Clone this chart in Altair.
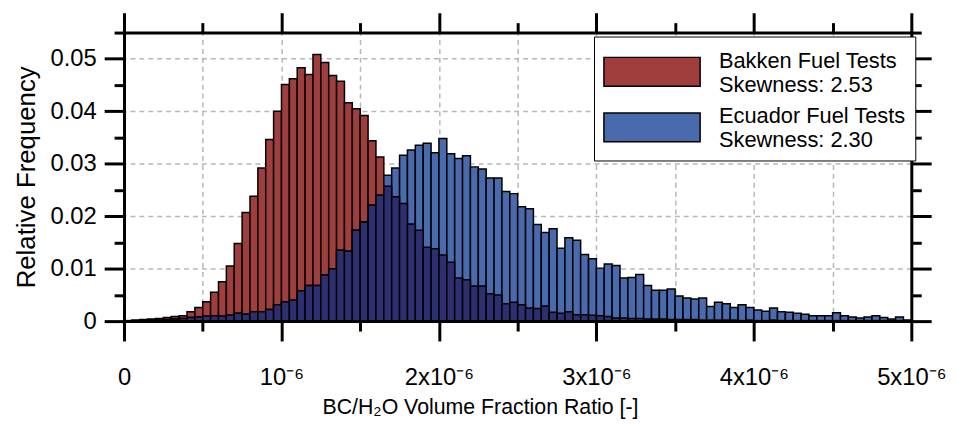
import json
import altair as alt
import pandas as pd

# ---------------- data ----------------
BIN_WIDTH = 5e-8  # histogram bin width (0.05 x 10^-6)

bakken = [
    0.0001, 0.0002, 0.0003, 0.0004, 0.0005, 0.0007, 0.0009, 0.0010, 0.0018, 0.0026,
    0.0037, 0.0055, 0.0075, 0.0105, 0.0148, 0.0207, 0.0238, 0.0292, 0.0346, 0.0400,
    0.0451, 0.0462, 0.0483, 0.0470, 0.0508, 0.0493, 0.0468, 0.0457, 0.0416, 0.0405,
    0.0392, 0.0344, 0.0313, 0.0257, 0.0237, 0.0224, 0.0185, 0.0173, 0.0141, 0.0138,
    0.0126, 0.0112, 0.0082, 0.0079, 0.0067, 0.0067, 0.0052, 0.0050, 0.0033, 0.0036,
    0.0031, 0.0025, 0.0024, 0.0029, 0.0017, 0.0015, 0.0018, 0.0012, 0.0012, 0.0011,
    0.0010, 0.0009, 0.0006, 0.0006, 0.0005, 0.0005, 0.0004, 0.0004, 0.0004, 0.0003,
    0.0003, 0.0003, 0.0003, 0.0002, 0.0002, 0.0002, 0.0002, 0.0002, 0.0001, 0.0002,
    0.0001, 0.0001, 0.0002, 0.0001, 0.0001, 0.0001, 0.0001, 0.0001, 0.0001, 0.0001,
    0.0001, 0.0001, 0.0001, 0.0001, 0.0001, 0.0001, 0.0001, 0.0001, 0.0001, 0.0001,
]

ecuador = [
    0.00005, 0.0001, 0.0001, 0.0002, 0.0002, 0.0003, 0.0004, 0.0005, 0.0007, 0.0008,
    0.00095, 0.0010, 0.00095, 0.0011, 0.0015, 0.0013, 0.0018, 0.0018, 0.0022, 0.0031,
    0.0037, 0.0040, 0.0058, 0.0068, 0.0068, 0.0088, 0.0100, 0.0135, 0.0133, 0.0173,
    0.0189, 0.0221, 0.0240, 0.0278, 0.0292, 0.0316, 0.0326, 0.0335, 0.0339, 0.0321,
    0.0348, 0.0319, 0.0310, 0.0315, 0.0294, 0.0290, 0.0273, 0.0273, 0.0247, 0.0243,
    0.0218, 0.0214, 0.0184, 0.0169, 0.0176, 0.0139, 0.0159, 0.0154, 0.0127, 0.0119,
    0.0101, 0.0109, 0.0106, 0.0082, 0.0083, 0.0089, 0.0068, 0.0059, 0.0059, 0.0061,
    0.0048, 0.0044, 0.0042, 0.0044, 0.0028, 0.0036, 0.0033, 0.0026, 0.0031, 0.0026,
    0.0021, 0.0019, 0.0025, 0.0018, 0.0017, 0.0015, 0.0013, 0.0010, 0.0010, 0.0010,
    0.0016, 0.0010, 0.0008, 0.0006, 0.0008, 0.0010, 0.0007, 0.0004, 0.0008, 0.0002,
]

series_names = ["Bakken Fuel Tests|Skewness: 2.53", "Ecuador Fuel Tests|Skewness: 2.30"]
series_colors = ["#a03d3d", "#4a6aae"]
overlap_color = "#2e2f70"

x_ticks = [0, 0.5e-6, 1e-6, 1.5e-6, 2e-6, 2.5e-6, 3e-6, 3.5e-6, 4e-6, 4.5e-6, 5e-6]
x_tick_labels = ["0", "", "10⁻⁶", "", "2x10⁻⁶", "", "3x10⁻⁶", "", "4x10⁻⁶", "", "5x10⁻⁶"]
y_ticks = [0, 0.005, 0.01, 0.015, 0.02, 0.025, 0.03, 0.035, 0.04, 0.045, 0.05, 0.055]
y_tick_labels = ["0", "", "0.01", "", "0.02", "", "0.03", "", "0.04", "", "0.05", ""]

x_title = "BC/H₂O Volume Fraction Ratio [-]"
y_title = "Relative Frequency"

# ---------------- tables ----------------
n = len(bakken)
starts = [i * BIN_WIDTH for i in range(n)]
ends = [(i + 1) * BIN_WIDTH for i in range(n)]

red_df = pd.DataFrame({"start": starts, "end": ends, "freq": bakken, "series": series_names[0]})
blue_df = pd.DataFrame({"start": starts, "end": ends, "freq": ecuador, "series": series_names[1]})
ovl_df = pd.DataFrame({"start": starts, "end": ends,
                       "freq": [min(a, b) for a, b in zip(bakken, ecuador)]})

FONT = "Liberation Sans"

x_major = "round(datum.value*2e6) % 2 == 0"
y_major = "round(datum.value*200) % 2 == 0"
x_tick_size = {"condition": {"test": x_major, "value": 20}, "value": 10}
y_tick_size = {"condition": {"test": y_major, "value": 20}, "value": 10}

x_scale = alt.Scale(domain=[0, 5e-6], nice=False, zero=False)
y_scale = alt.Scale(domain=[0, 0.055], nice=False)
color_scale = alt.Scale(domain=series_names, range=series_colors)

common_axis = dict(
    tickWidth=3, tickColor="black", domainWidth=3, domainColor="black",
    domainCap="square",
)

x_bottom = alt.Axis(
    orient="bottom", values=x_ticks,
    labelExpr=json.dumps(x_tick_labels) + "[round(datum.value*2e6)]",
    tickSize=x_tick_size, grid=False, labelFont=FONT, labelFontSize=24,
    labelColor="black", labelPadding=25, labelFlush=False, labelOverlap=False,
    labelBound=False,
    title=x_title, titleFont=FONT, titleFontSize=21.5, titleFontWeight="normal",
    titleColor="black", titlePadding=7, titleX=359, titleAlign="center",
    zindex=1, **common_axis,
)
x_top = alt.Axis(
    orient="top", values=x_ticks, labels=False, tickSize=x_tick_size,
    grid=True, gridDash=[5, 4], gridColor="#b8b8b8", gridWidth=1.5,
    title=None, zindex=0, **common_axis,
)
y_left = alt.Axis(
    orient="left", values=y_ticks,
    labelExpr=json.dumps(y_tick_labels) + "[round(datum.value*200)]",
    tickSize=y_tick_size, grid=False, labelFont=FONT, labelFontSize=24,
    labelColor="black", labelPadding=8, labelFlush=False, labelOverlap=False,
    labelBound=False,
    title=y_title, titleFont=FONT, titleFontSize=26, titleFontWeight="normal",
    titleColor="black", titlePadding=11, zindex=1, **common_axis,
)
y_right = alt.Axis(
    orient="right", values=y_ticks, labels=False, tickSize=y_tick_size,
    grid=True, gridDash=[5, 4], gridColor="#b8b8b8", gridWidth=1.5,
    gridOpacity={"condition": {"test": y_major, "value": 1}, "value": 0},
    title=None, zindex=0, **common_axis,
)

# swatch: 97 x 29 px rectangle drawn from a 29 px symbol, lowered to sit
# beside the two-line label
legend_kwargs = dict(
    orient="none", legendX=474, legendY=4, title=None,
    symbolType="M-3.345,-0.24H3.345V1.76H-3.345Z", symbolSize=841, symbolOffset=34,
    symbolStrokeColor="black", symbolStrokeWidth=1.5, symbolOpacity=1,
    labelFont=FONT, labelFontSize=22, labelColor="black", labelOffset=52,
    labelLimit=500, labelExpr="split(datum.label, '|')",
    padding=9, rowPadding=5, strokeColor="black", fillColor="white",
)


def legend_ok(extra):
    try:
        probe = alt.Chart(pd.DataFrame({"a": ["x"]})).mark_point().encode(
            color=alt.Color("a:N", legend=alt.Legend(**legend_kwargs, **extra)))
        probe.to_dict()
        return True
    except Exception:
        return False


legend_extra = {}
for cand in (
    {"strokeWidth": 3},
    {"encoding": {"legend": {"update": {"strokeWidth": {"value": 3}}}}},
    {"encoding": {"legend": {"strokeWidth": {"value": 3}}}},
    {"encode": {"legend": {"update": {"strokeWidth": {"value": 3}}}}},
    {"encode": {"legend": {"strokeWidth": {"value": 3}}}},
):
    if legend_ok(cand):
        legend_extra = cand
        break

legend = alt.Legend(**legend_kwargs, **legend_extra)

bar_style = dict(stroke="black", strokeWidth=1.5, opacity=1)

red = alt.Chart(red_df).mark_rect(**bar_style).encode(
    x=alt.X("start:Q", scale=x_scale, axis=x_bottom),
    x2="end:Q",
    y=alt.Y("freq:Q", scale=y_scale, axis=y_left),
    y2=alt.datum(0),
    color=alt.Color("series:N", scale=color_scale, legend=legend),
)
blue = alt.Chart(blue_df).mark_rect(**bar_style).encode(
    x=alt.X("start:Q", scale=x_scale, axis=x_top),
    x2="end:Q",
    y=alt.Y("freq:Q", scale=y_scale, axis=y_right),
    y2=alt.datum(0),
    color=alt.Color("series:N", scale=color_scale, legend=legend),
)
ovl = alt.Chart(ovl_df).mark_rect(color=overlap_color, **bar_style).encode(
    x=alt.X("start:Q", scale=x_scale, axis=None),
    x2="end:Q",
    y=alt.Y("freq:Q", scale=y_scale, axis=None),
    y2=alt.datum(0),
)

chart = (
    alt.layer(red, blue, ovl)
    .properties(
        width=794, height=291,
        autosize=alt.AutoSizeParams(type="none"),
        padding={"left": 117, "top": 23, "right": 38, "bottom": 104},
    )
    .configure_view(stroke=None)
    .configure_legend(strokeWidth=3)
    .configure(font=FONT)
)

chart.save("out.html", embed_options={"renderer": "svg", "actions": False})
